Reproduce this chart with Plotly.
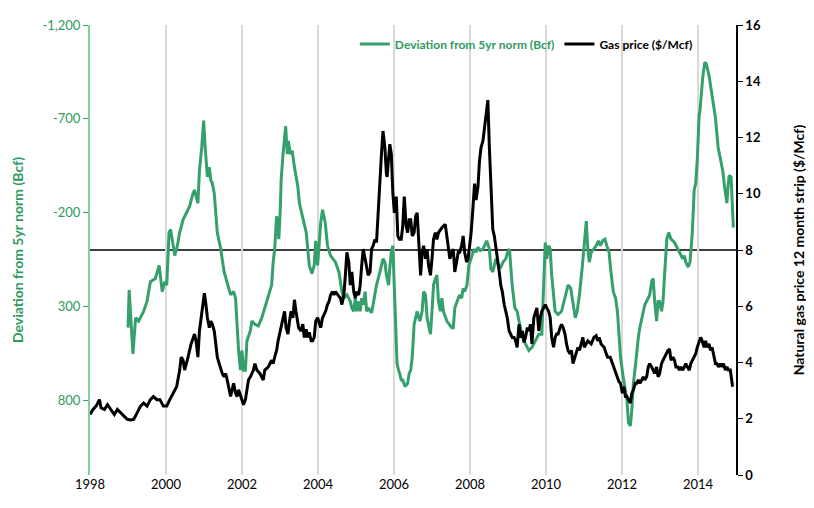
import plotly.graph_objects as go

# ---------------- data ----------------
dev_years = [
    1999.00, 1999.03, 1999.13, 1999.20, 1999.28, 1999.41, 1999.50, 1999.59, 1999.72, 1999.76,
    1999.82, 1999.87, 1999.90, 1999.97, 2000.02, 2000.08, 2000.12, 2000.19, 2000.23, 2000.30,
    2000.36, 2000.45, 2000.53, 2000.62, 2000.71, 2000.75, 2000.84, 2000.88, 2000.94, 2000.99,
    2001.03, 2001.09, 2001.14, 2001.18, 2001.22, 2001.27, 2001.35, 2001.44, 2001.53, 2001.61,
    2001.70, 2001.78, 2001.83, 2001.91, 2001.96, 2002.00, 2002.04, 2002.09, 2002.13, 2002.22,
    2002.26, 2002.34, 2002.43, 2002.52, 2002.60, 2002.69, 2002.78, 2002.82, 2002.86, 2002.91,
    2002.95, 2002.97, 2003.01, 2003.03, 2003.08, 2003.15, 2003.19, 2003.22, 2003.27, 2003.32,
    2003.38, 2003.47, 2003.51, 2003.55, 2003.60, 2003.69, 2003.77, 2003.84, 2003.90, 2003.94,
    2003.99, 2004.03, 2004.07, 2004.12, 2004.19, 2004.25, 2004.33, 2004.46, 2004.55, 2004.63,
    2004.68, 2004.76, 2004.85, 2004.89, 2004.94, 2004.98, 2005.02, 2005.07, 2005.11, 2005.15,
    2005.19, 2005.24, 2005.28, 2005.32, 2005.41, 2005.45, 2005.54, 2005.63, 2005.67, 2005.71,
    2005.76, 2005.80, 2005.86, 2005.88, 2005.93, 2005.97, 2006.00, 2006.04, 2006.08, 2006.12,
    2006.15, 2006.19, 2006.23, 2006.29, 2006.36, 2006.40, 2006.44, 2006.48, 2006.53, 2006.57,
    2006.61, 2006.68, 2006.74, 2006.78, 2006.83, 2006.87, 2006.96, 2007.00, 2007.04, 2007.09,
    2007.13, 2007.17, 2007.22, 2007.26, 2007.30, 2007.39, 2007.46, 2007.52, 2007.56, 2007.60,
    2007.69, 2007.73, 2007.78, 2007.82, 2007.86, 2007.92, 2007.97, 2008.02, 2008.08, 2008.12,
    2008.16, 2008.21, 2008.27, 2008.34, 2008.38, 2008.44, 2008.51, 2008.55, 2008.60, 2008.68,
    2008.75, 2008.81, 2008.87, 2008.94, 2008.99, 2009.04, 2009.07, 2009.11, 2009.18, 2009.24,
    2009.29, 2009.38, 2009.46, 2009.55, 2009.63, 2009.72, 2009.81, 2009.89, 2009.94, 2009.98,
    2010.02, 2010.07, 2010.11, 2010.15, 2010.24, 2010.32, 2010.41, 2010.50, 2010.58, 2010.65,
    2010.71, 2010.77, 2010.82, 2010.88, 2010.95, 2011.00, 2011.06, 2011.10, 2011.14, 2011.19,
    2011.26, 2011.32, 2011.38, 2011.43, 2011.49, 2011.55, 2011.60, 2011.66, 2011.70, 2011.77,
    2011.83, 2011.88, 2011.92, 2011.96, 2012.03, 2012.09, 2012.13, 2012.17, 2012.22, 2012.26,
    2012.30, 2012.35, 2012.39, 2012.43, 2012.47, 2012.52, 2012.56, 2012.60, 2012.69, 2012.73,
    2012.78, 2012.82, 2012.86, 2012.91, 2012.95, 2012.99, 2013.04, 2013.08, 2013.12, 2013.15,
    2013.18, 2013.23, 2013.29, 2013.38, 2013.47, 2013.51, 2013.60, 2013.64, 2013.68, 2013.74,
    2013.79, 2013.85, 2013.90, 2013.94, 2013.98, 2014.03, 2014.05, 2014.10, 2014.13, 2014.18,
    2014.22, 2014.29, 2014.37, 2014.46, 2014.53, 2014.59, 2014.65, 2014.70, 2014.76, 2014.79,
    2014.82, 2014.87, 2014.91, 2014.93,
]
dev_bcf = [
    414, 213, 554, 362, 379, 327, 274, 169, 152, 117,
    82, 169, 222, 169, 187, -93, -110, -23, 30, -23,
    -93, -162, -197, -232, -302, -320, -250, -424, -547, -690,
    -547, -390, -442, -372, -355, -302, -93, -5, 117, 169,
    239, 222, 257, 536, 641, 536, 641, 641, 484, 431,
    379, 396, 405, 362, 309, 257, 187, 65, -5, -180,
    -93, -58, -232, -372, -512, -660, -512, -582, -512, -529,
    -442, -337, -250, -215, -162, -93, 82, 126, 82, -49,
    82, -23, -145, -215, -145, -23, 30, 65, 117, 222,
    257, 239, 274, 309, 327, 257, 327, 274, 327, 257,
    292, 222, 327, 309, 335, 292, 187, 117, 82, 47,
    65, 134, 187, 117, 12, -23, 152, 362, 606, 641,
    658, 693, 693, 728, 711, 658, 640, 571, 396, 362,
    327, 379, 327, 222, 239, 362, 449, 327, 187, 152,
    134, 274, 327, 257, 327, 379, 396, 414, 414, 309,
    257, 239, 257, 204, 222, 187, 82, 47, 12, -5,
    12, -14, 3, -5, -23, -49, -5, 100, 117, 47,
    82, 91, 65, 47, 12, -5, 82, 187, 309, 327,
    379, 466, 501, 536, 519, 484, 449, 449, 222, -40,
    47, -23, -5, 134, 327, 344, 327, 257, 187, 204,
    292, 362, 327, 239, 100, -23, -154, -5, 65, 12,
    -5, -23, -49, -23, -49, -58, -23, 12, 100, 222,
    257, 327, 449, 571, 676, 746, 798, 921, 938, 851,
    711, 624, 536, 466, 414, 362, 327, 292, 257, 239,
    169, 152, 274, 379, 274, 274, 327, 274, 134, 12,
    -58, -93, -58, -40, -5, 12, 47, 30, 65, 91,
    65, -93, -320, -355, -477, -721, -739, -861, -931, -1001,
    -992, -931, -826, -704, -547, -494, -424, -337, -250, -337,
    -398, -390, -232, -119,
]

price_years = [
    1998.00, 1998.08, 1998.16, 1998.25, 1998.29, 1998.38, 1998.46, 1998.55, 1998.64, 1998.72,
    1998.81, 1998.90, 1998.98, 1999.07, 1999.15, 1999.24, 1999.33, 1999.41, 1999.50, 1999.59,
    1999.67, 1999.76, 1999.84, 1999.93, 2000.02, 2000.10, 2000.19, 2000.28, 2000.36, 2000.40,
    2000.45, 2000.49, 2000.58, 2000.66, 2000.72, 2000.75, 2000.79, 2000.84, 2000.88, 2000.92,
    2000.97, 2001.01, 2001.05, 2001.09, 2001.14, 2001.18, 2001.22, 2001.27, 2001.31, 2001.35,
    2001.40, 2001.48, 2001.53, 2001.57, 2001.61, 2001.66, 2001.70, 2001.74, 2001.78, 2001.83,
    2001.87, 2001.91, 2001.96, 2002.00, 2002.04, 2002.09, 2002.13, 2002.17, 2002.22, 2002.26,
    2002.30, 2002.34, 2002.39, 2002.47, 2002.52, 2002.56, 2002.60, 2002.69, 2002.78, 2002.82,
    2002.86, 2002.91, 2002.95, 2002.99, 2003.08, 2003.12, 2003.16, 2003.21, 2003.25, 2003.29,
    2003.34, 2003.38, 2003.42, 2003.49, 2003.55, 2003.60, 2003.64, 2003.69, 2003.73, 2003.77,
    2003.82, 2003.86, 2003.90, 2003.94, 2003.99, 2004.03, 2004.07, 2004.12, 2004.20, 2004.25,
    2004.29, 2004.33, 2004.38, 2004.42, 2004.46, 2004.55, 2004.59, 2004.63, 2004.68, 2004.72,
    2004.76, 2004.81, 2004.85, 2004.89, 2004.94, 2004.98, 2005.02, 2005.07, 2005.11, 2005.15,
    2005.19, 2005.24, 2005.28, 2005.32, 2005.37, 2005.41, 2005.45, 2005.50, 2005.54, 2005.58,
    2005.63, 2005.67, 2005.71, 2005.76, 2005.80, 2005.82, 2005.86, 2005.89, 2005.93, 2005.97,
    2006.01, 2006.06, 2006.10, 2006.14, 2006.19, 2006.23, 2006.27, 2006.32, 2006.36, 2006.40,
    2006.44, 2006.48, 2006.53, 2006.57, 2006.61, 2006.66, 2006.70, 2006.74, 2006.78, 2006.83,
    2006.87, 2006.91, 2006.96, 2007.00, 2007.04, 2007.09, 2007.13, 2007.17, 2007.22, 2007.26,
    2007.30, 2007.35, 2007.39, 2007.43, 2007.47, 2007.52, 2007.56, 2007.60, 2007.65, 2007.69,
    2007.73, 2007.78, 2007.82, 2007.86, 2007.91, 2007.95, 2007.99, 2008.03, 2008.08, 2008.12,
    2008.16, 2008.21, 2008.25, 2008.29, 2008.34, 2008.38, 2008.42, 2008.47, 2008.51, 2008.55,
    2008.60, 2008.64, 2008.68, 2008.72, 2008.77, 2008.81, 2008.85, 2008.90, 2008.94, 2008.98,
    2009.03, 2009.07, 2009.11, 2009.16, 2009.20, 2009.24, 2009.29, 2009.33, 2009.38, 2009.42,
    2009.46, 2009.51, 2009.55, 2009.59, 2009.63, 2009.68, 2009.72, 2009.76, 2009.81, 2009.85,
    2009.89, 2009.94, 2009.98, 2010.02, 2010.07, 2010.11, 2010.15, 2010.20, 2010.24, 2010.28,
    2010.32, 2010.37, 2010.41, 2010.45, 2010.50, 2010.54, 2010.58, 2010.63, 2010.67, 2010.71,
    2010.76, 2010.80, 2010.84, 2010.88, 2010.93, 2010.97, 2011.01, 2011.06, 2011.10, 2011.19,
    2011.26, 2011.32, 2011.36, 2011.40, 2011.45, 2011.49, 2011.53, 2011.57, 2011.62, 2011.69,
    2011.75, 2011.79, 2011.83, 2011.88, 2011.92, 2011.96, 2012.01, 2012.05, 2012.09, 2012.13,
    2012.17, 2012.22, 2012.26, 2012.30, 2012.35, 2012.39, 2012.43, 2012.47, 2012.52, 2012.56,
    2012.60, 2012.65, 2012.69, 2012.73, 2012.78, 2012.82, 2012.86, 2012.91, 2012.95, 2012.99,
    2013.04, 2013.08, 2013.12, 2013.16, 2013.21, 2013.25, 2013.29, 2013.34, 2013.38, 2013.42,
    2013.47, 2013.51, 2013.55, 2013.60, 2013.64, 2013.68, 2013.72, 2013.77, 2013.81, 2013.85,
    2013.90, 2013.94, 2013.98, 2014.03, 2014.07, 2014.11, 2014.16, 2014.20, 2014.24, 2014.29,
    2014.33, 2014.37, 2014.41, 2014.46, 2014.50, 2014.54, 2014.59, 2014.63, 2014.67, 2014.72,
    2014.76, 2014.80, 2014.85, 2014.89, 2014.91,
]
price_usd = [
    2.15, 2.33, 2.45, 2.68, 2.39, 2.33, 2.50, 2.33, 2.15, 2.33,
    2.21, 2.10, 1.98, 1.96, 1.98, 2.21, 2.45, 2.56, 2.45, 2.68,
    2.79, 2.68, 2.68, 2.45, 2.45, 2.68, 2.91, 3.14, 3.73, 4.19,
    4.08, 3.73, 4.19, 4.66, 4.89, 5.01, 4.77, 4.19, 5.12, 5.59,
    6.06, 6.46, 6.06, 5.59, 5.24, 5.47, 5.36, 5.12, 4.66, 4.19,
    3.96, 3.61, 3.49, 3.61, 3.38, 3.03, 2.79, 3.03, 3.26, 2.91,
    2.79, 3.03, 2.79, 2.68, 2.50, 2.68, 3.03, 3.38, 3.49, 3.61,
    3.73, 3.96, 3.73, 3.61, 3.49, 3.38, 3.73, 3.84, 4.08, 3.96,
    4.19, 4.43, 4.77, 5.01, 5.59, 5.82, 5.24, 5.01, 5.47, 5.82,
    5.59, 6.23, 5.82, 5.24, 5.12, 5.36, 4.89, 5.18, 4.89, 5.07,
    4.77, 4.77, 4.89, 5.47, 5.59, 5.36, 5.24, 5.59, 5.82, 6.06,
    6.17, 6.40, 6.52, 6.40, 6.52, 6.35, 6.29, 6.06, 6.40, 7.10,
    7.92, 7.57, 6.75, 7.22, 6.52, 6.29, 6.52, 6.40, 6.75, 7.45,
    8.03, 7.69, 7.45, 7.10, 7.22, 8.03, 8.15, 8.38, 8.27, 9.32,
    10.71, 11.41, 12.23, 11.64, 10.71, 10.60, 11.30, 11.76, 11.41, 10.01,
    9.32, 9.90, 8.50, 8.38, 8.38, 8.85, 9.90, 8.85, 8.62, 9.08,
    9.08, 8.50, 8.62, 9.20, 9.32, 8.03, 7.10, 7.92, 8.15, 7.69,
    8.03, 7.45, 7.10, 7.69, 8.38, 8.62, 8.38, 8.62, 8.73, 8.79,
    8.85, 8.91, 8.50, 8.15, 7.69, 7.92, 8.03, 7.22, 7.69, 7.92,
    7.92, 8.15, 8.50, 7.92, 7.57, 7.69, 8.15, 8.62, 9.55, 10.36,
    9.78, 10.25, 11.18, 11.64, 11.88, 12.34, 12.93, 13.33, 11.64, 10.01,
    8.73, 8.50, 8.15, 7.69, 7.22, 6.75, 6.52, 6.06, 5.82, 5.59,
    5.12, 5.01, 4.89, 4.89, 4.77, 4.54, 5.36, 4.89, 5.12, 4.72,
    4.89, 5.24, 5.12, 5.36, 4.66, 5.59, 5.82, 5.94, 5.12, 5.59,
    5.82, 5.94, 6.06, 5.94, 5.82, 5.59, 4.89, 4.54, 4.89, 5.01,
    5.01, 5.24, 5.36, 5.24, 5.01, 4.66, 4.43, 4.31, 4.43, 3.96,
    4.19, 4.31, 4.54, 4.43, 4.66, 4.89, 4.54, 4.66, 4.77, 4.66,
    4.89, 4.95, 4.77, 4.89, 4.66, 4.60, 4.54, 4.37, 4.19, 4.19,
    3.96, 3.84, 3.73, 3.49, 3.32, 3.26, 2.91, 3.14, 2.79, 2.79,
    2.68, 2.56, 2.91, 3.03, 3.26, 3.26, 3.38, 3.26, 3.38, 3.49,
    3.38, 3.49, 3.84, 3.96, 3.84, 3.73, 3.61, 3.84, 3.49, 3.61,
    3.96, 4.08, 4.19, 4.31, 4.43, 4.48, 4.08, 4.19, 4.08, 3.84,
    3.84, 3.73, 3.84, 3.73, 3.84, 3.96, 3.84, 3.73, 3.96, 4.08,
    4.19, 4.31, 4.54, 4.77, 4.89, 4.77, 4.54, 4.77, 4.54, 4.66,
    4.43, 4.54, 4.31, 3.96, 3.96, 3.84, 3.96, 3.84, 3.96, 3.73,
    3.84, 3.73, 3.73, 3.38, 3.14,
]

year_ticks = [1998, 2000, 2002, 2004, 2006, 2008, 2010, 2012, 2014]
year_labels = ["1998", "2000", "2002", "2004", "2006", "2008", "2010", "2012", "2014"]
dev_ticks = [-1200, -700, -200, 300, 800]
dev_labels = ["-1,200", "-700", "-200", "300", "800"]
price_ticks = [0, 2, 4, 6, 8, 10, 12, 14, 16]
price_labels = ["0", "2", "4", "6", "8", "10", "12", "14", "16"]

series_dev_name = "Deviation from 5yr norm (Bcf)"
series_price_name = "Gas price ($/Mcf)"
left_title = "Deviation from 5yr norm (Bcf)"
right_title = "Natural gas price 12 month strip ($/Mcf)"

# ---------------- styles ----------------
GREEN = "#35A06C"
GREEN_TEXT = "#2E9A60"
GREEN_AXIS = "#7DD3A2"
FONT = "Lato, 'Open Sans', sans-serif"

fig = go.Figure()
fig.add_trace(go.Scatter(
    x=dev_years, y=dev_bcf, mode="lines",
    name=f"<b><span style='color:{GREEN_TEXT}'>{series_dev_name}</span></b>",
    line=dict(color=GREEN, width=3), yaxis="y",
))
fig.add_trace(go.Scatter(
    x=price_years, y=price_usd, mode="lines",
    name=f"<b>{series_price_name}</b>",
    line=dict(color="black", width=3), yaxis="y2",
))

# page body has an 8px default margin, so the figure is 8px smaller and offset
fig.update_layout(
    width=806, height=500,
    margin=dict(l=81, r=68, t=9, b=33),
    paper_bgcolor="white", plot_bgcolor="white",
    font=dict(family=FONT, color="black", size=12),
    showlegend=True,
    legend=dict(orientation="h", x=0.41, y=0.99, xanchor="left", yanchor="top",
                bgcolor="rgba(0,0,0,0)", font=dict(size=12, family=FONT),
                itemwidth=30, tracegroupgap=0),
    xaxis=dict(range=[1998, 2015], tickvals=year_ticks, ticktext=year_labels,
               showgrid=True, gridcolor="#D9D9D9", gridwidth=2,
               showline=False, zeroline=False, ticks="",
               tickfont=dict(size=13, color="black", family=FONT)),
    yaxis=dict(range=[1200, -1200], tickvals=dev_ticks, ticktext=dev_labels,
               showgrid=False, zeroline=False,
               showline=True, linecolor=GREEN_AXIS, linewidth=2,
               ticks="outside", ticklen=5, tickcolor=GREEN, tickwidth=1,
               tickfont=dict(size=13, color=GREEN_TEXT, family=FONT),
               title=dict(text=f"<b>{left_title}</b>", standoff=16,
                          font=dict(size=14, color=GREEN_TEXT, family=FONT))),
    yaxis2=dict(range=[0, 16], tickvals=price_ticks, ticktext=price_labels,
                overlaying="y", side="right",
                showgrid=False, zeroline=False,
                showline=True, linecolor="black", linewidth=1.5,
                ticks="outside", ticklen=5, tickcolor="black",
                tickfont=dict(size=13, color="black", family=FONT, weight="bold"),
                title=dict(text=f"<b>{right_title}</b>", standoff=34,
                           font=dict(size=14, color="black", family=FONT))),
    shapes=[
        dict(type="rect", xref="paper", yref="paper", x0=0.40, x1=0.91, y0=0.868, y1=1.0,
             fillcolor="white", line=dict(width=0), layer="between"),
        dict(type="line", xref="paper", yref="y", x0=0, x1=1, y0=0, y1=0,
             line=dict(color="black", width=1.5), layer="between"),
    ],
)

fig.write_html("out.html")
